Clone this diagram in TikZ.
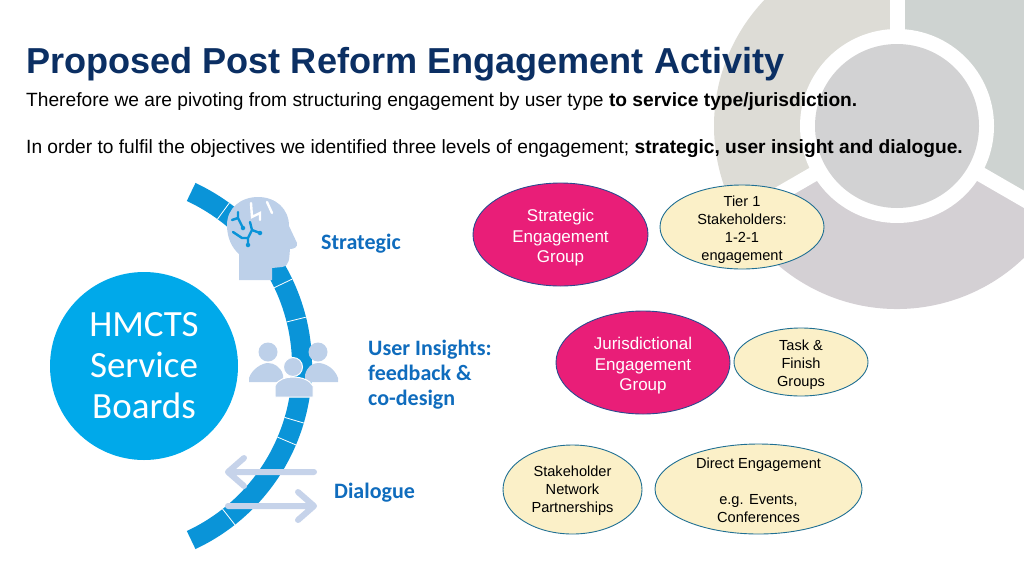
\documentclass[tikz,border=0pt]{standalone}
\usepackage{fontspec}
\setmainfont{Liberation Sans}
\newfontfamily\labelfont{Carlito}
\usepackage{xcolor}
\definecolor{hmctsnavy}{HTML}{0B2F63}
\definecolor{hmctscyan}{HTML}{00A9EA}
\definecolor{bandblue}{HTML}{0A94D8}
\definecolor{labelblue}{HTML}{0F6CBD}
\definecolor{iconblue}{HTML}{BDD0E9}
\definecolor{arrowblue}{HTML}{C6D3EA}
\definecolor{blobpink}{HTML}{E91E78}
\definecolor{blobedge}{HTML}{2A4A8F}
\definecolor{blobcream}{HTML}{FBF0C8}
\definecolor{blobline}{HTML}{1F6F93}
\definecolor{wheela}{HTML}{DDDCD6}
\definecolor{wheelb}{HTML}{CED3D1}
\definecolor{wheelc}{HTML}{D4D0D4}
\definecolor{wheeld}{HTML}{D2D2D3}
\usetikzlibrary{shapes.geometric,positioning}

\begin{document}
\begin{tikzpicture}[
  x=1pt, y=-1pt,
  pinkblob/.style={ellipse, draw=blobedge, line width=0.9pt, fill=blobpink, inner sep=0pt, outer sep=0pt},
  creamblob/.style={ellipse, draw=blobline, line width=0.9pt, fill=blobcream, inner sep=0pt, outer sep=0pt},
  pinktext/.style={align=center, text=white, yshift=-3.5pt, font=\fontsize{17}{20.5}\selectfont},
  creamtext/.style={align=center, text=black, yshift=-2.5pt, font=\fontsize{14.6}{18}\selectfont},
  sidelabel/.style={anchor=west, align=left, inner sep=0pt, yshift=-2pt, text=labelblue, font=\labelfont\bfseries\fontsize{22}{25}\selectfont},
  bodytext/.style={anchor=base west, inner sep=0pt, font=\fontsize{19.17}{23}\selectfont},
  circuitdot/.style={circle, fill=bandblue, inner sep=0pt, minimum size=4.5pt}
  ]
  \useasboundingbox (0,0) rectangle (1024,576);

  % wheel in the corner
  \begin{scope}
    \clip (0,0) rectangle (1024,576);
    \fill[wheela] (897,126) -- ++(-90:183) arc (-90:-210:183) -- cycle;
    \fill[wheelb] (897,126) -- ++(-90:183) arc (-90:30:183) -- cycle;
    \fill[wheelc] (897,126) -- ++(30:183) arc (30:150:183) -- cycle;
    \draw[white, line width=15pt] (897,126) -- ++(-90:190);
    \draw[white, line width=15pt] (897,126) -- ++(30:190);
    \draw[white, line width=15pt] (897,126) -- ++(150:190);
    \fill[white] (897,126) circle (97);
    \fill[wheeld] (897,126) circle (82);
  \end{scope}

  % heading
  \node[anchor=base west, inner sep=0pt, text=hmctsnavy, font=\bfseries\fontsize{36.1}{40}\selectfont] (title) at (26,73) {Proposed Post Reform Engagement Activity};
  \node[bodytext] (intro) at (26,106) {Therefore we are pivoting from structuring engagement by user type \textbf{to service type/jurisdiction.}};
  \node[bodytext] (levels) at (26,153) {In order to fulfil the objectives we identified three levels of engagement; \textbf{strategic, user insight and dialogue.}};

  % curved band
  \draw[bandblue, line width=20pt] (110,366) ++(-65:192) arc (-65:65:192);
  \foreach \tickangle in {-53.8,-25.5,-14,16.4,23,51.8} {
    \draw[white, line width=0.8pt] (110,366) ++(\tickangle:182) -- ++(\tickangle:20);
  }

  % hub
  \node[circle, fill=hmctscyan, minimum size=188pt, inner sep=0pt, align=center, text=white, font=\labelfont\fontsize{37}{41}\selectfont] (hub) at (144,366) {HMCTS\\Service\\Boards};

  % head
  \fill[iconblue] (239,280) -- (239,254) .. controls (232,248) and (227,238) .. (227,225)
    .. controls (227,208) and (241,197) .. (258,197) .. controls (276,197) and (289,209) .. (289,226)
    -- (297,243) .. controls (298,247) and (294,249) .. (290,249) .. controls (289,258) and (290,266) .. (282,267)
    -- (272,268) -- (272,280) -- cycle;
  \draw[bandblue, line width=2.4pt, line cap=round] (238,212) -- (238,218) -- (232,220) (238,218) -- (243,228);
  \draw[bandblue, line width=2.4pt, line cap=round] (233,232) -- (242,238) -- (248,238) -- (252,230) -- (250,222) (252,230) -- (260,233) (248,238) -- (248,245);
  \node[circuitdot] (dota) at (243,228) {};
  \node[circuitdot] (dotb) at (260,233) {};
  \node[circuitdot] (dotc) at (248,245) {};
  \draw[white, line width=2.4pt, line cap=round] (251,203) -- (252,217) -- (260,213) -- (260,220) (267,202) -- (272,213);

  % people
  \fill[iconblue] (268,352) circle (9.5);
  \fill[iconblue] (318,352) circle (9.5);
  \fill[iconblue] (249,382) -- (249,378) .. controls (252,369) and (262,363) .. (268,363)
    .. controls (274,363) and (281,367) .. (283,375) -- (283,382) -- cycle;
  \fill[iconblue] (305,382) -- (305,375) .. controls (307,367) and (312,363) .. (318,363)
    .. controls (326,363) and (335,369) .. (338,378) -- (338,382) -- cycle;
  \filldraw[iconblue, draw=white, line width=1pt] (293,367) circle (9.5);
  \filldraw[iconblue, draw=white, line width=1pt] (275,397) -- (275,386) .. controls (278,379) and (286,377) .. (293,377)
    .. controls (301,377) and (310,380) .. (313,386) -- (313,397) -- cycle;

  % arrows
  \draw[arrowblue, line width=6pt, line cap=round, line join=round] (314,472) -- (228,472) (244,458) -- (228,472) -- (244,486);
  \draw[arrowblue, line width=6pt, line cap=round, line join=round] (228,506) -- (314,506) (298,492) -- (314,506) -- (298,520);

  % side labels
  \node[sidelabel] (strategic) at (321,242) {Strategic};
  \node[sidelabel] (insights) at (368,373) {User Insights:\\feedback \&\\co-design};
  \node[sidelabel] (dialogue) at (334,491) {Dialogue};

  % engagement groups
  \node[pinkblob, minimum width=175pt, minimum height=103pt] (seg) at (560.5,234.5) {};
  \node[pinktext] (segtext) at (seg) {Strategic\\Engagement\\Group};
  \node[creamblob, minimum width=164pt, minimum height=84pt] (tier) at (742,227) {};
  \node[creamtext] (tiertext) at (tier) {Tier 1\\Stakeholders:\\1-2-1\\engagement};
  \node[pinkblob, minimum width=174pt, minimum height=103pt] (jeg) at (643,362.5) {};
  \node[pinktext] (jegtext) at (jeg) {Jurisdictional\\Engagement\\Group};
  \node[creamblob, minimum width=134pt, minimum height=68pt] (task) at (801,362) {};
  \node[creamtext] (tasktext) at (task) {Task \&\\Finish\\Groups};
  \node[creamblob, minimum width=139pt, minimum height=89pt] (network) at (572.5,489.5) {};
  \node[creamtext, yshift=1.5pt] (networktext) at (network) {Stakeholder\\Network\\Partnerships};
  \node[creamblob, minimum width=207pt, minimum height=90pt] (direct) at (758.5,489) {};
  \node[creamtext, yshift=1pt] (directtext) at (direct) {Direct Engagement\\[18pt]e.g. Events,\\Conferences};

\end{tikzpicture}
\end{document}
